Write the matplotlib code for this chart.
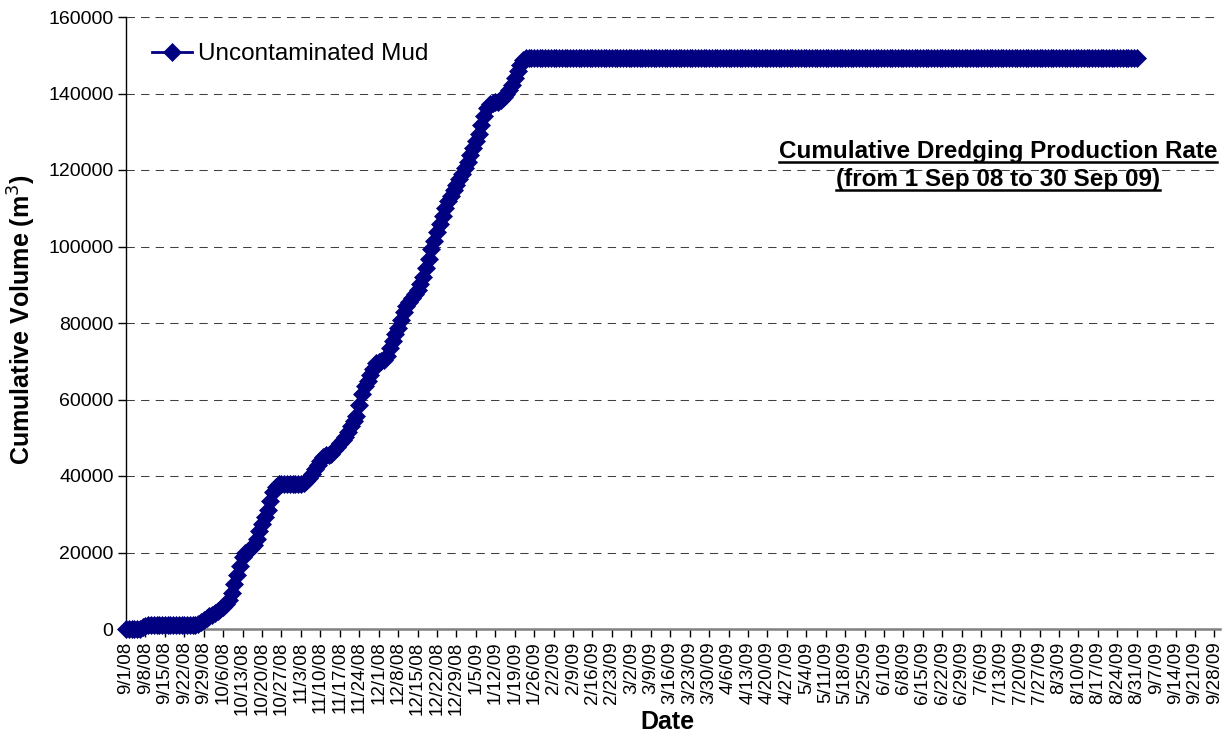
import matplotlib
matplotlib.use("Agg")
import matplotlib.pyplot as plt
import matplotlib.dates as mdates
from matplotlib.lines import Line2D
import numpy as np
import pandas as pd

plt.rcParams['font.family'] = ['Liberation Sans', 'DejaVu Sans']

# ---------------- data ----------------
start_date = "2008-09-01"
series_name = "Uncontaminated Mud"

volume_rise = [
    0, 0, 0, 0, 0, 0, 600, 900, 950, 1000,
    1000, 1000, 1000, 1000, 1000, 1000, 1000, 1000, 1000, 1000,
    1000, 1000, 1000, 1000, 1050, 1100, 1200, 1800, 2400, 2900,
    3300, 3700, 4200, 4700, 5200, 5800, 6600, 7600, 9500, 11800,
    14000, 16500, 18800, 19800, 20500, 21300, 22000, 23500, 25600, 27500,
    29300, 31000, 33500, 35800, 37000, 37800, 37900, 37900, 37900, 37900,
    37900, 37900, 37900, 37900, 38200, 38800, 39600, 40600, 41700, 42800,
    44000, 45000, 45500, 45600, 45800, 46800, 47700, 48600, 49500, 50300,
    51500, 53000, 54300, 55600, 58500, 61500, 63500, 64800, 66300, 68000,
    69500, 69900, 70100, 70400, 71500, 73500, 75200, 77000, 78800, 80800,
    82800, 84500, 85600, 86600, 87600, 88700, 90300, 92000, 94300, 96800,
    99300, 101500, 103800, 106000, 108000, 110000, 111800, 113300, 114800, 116200,
    117600, 119000, 120600, 122200, 124000, 125800, 127600, 129500, 131800, 134000,
    136200, 137300, 137600, 137700, 137800, 138300, 139000, 139800, 140800, 142300,
    144000, 145800, 147500, 148800,
]

volume_plateau = [
    149300, 149300, 149300, 149300, 149300, 149300, 149300, 149300, 149300, 149300, 149300, 149300, 149300,
    149300, 149300, 149300, 149300, 149300, 149300, 149300, 149300, 149300, 149300, 149300, 149300, 149300,
    149300, 149300, 149300, 149300, 149300, 149300, 149300, 149300, 149300, 149300, 149300, 149300, 149300,
    149300, 149300, 149300, 149300, 149300, 149300, 149300, 149300, 149300, 149300, 149300, 149300, 149300,
    149300, 149300, 149300, 149300, 149300, 149300, 149300, 149300, 149300, 149300, 149300, 149300, 149300,
    149300, 149300, 149300, 149300, 149300, 149300, 149300, 149300, 149300, 149300, 149300, 149300, 149300,
    149300, 149300, 149300, 149300, 149300, 149300, 149300, 149300, 149300, 149300, 149300, 149300, 149300,
    149300, 149300, 149300, 149300, 149300, 149300, 149300, 149300, 149300, 149300, 149300, 149300, 149300,
    149300, 149300, 149300, 149300, 149300, 149300, 149300, 149300, 149300, 149300, 149300, 149300, 149300,
    149300, 149300, 149300, 149300, 149300, 149300, 149300, 149300, 149300, 149300, 149300, 149300, 149300,
    149300, 149300, 149300, 149300, 149300, 149300, 149300, 149300, 149300, 149300, 149300, 149300, 149300,
    149300, 149300, 149300, 149300, 149300, 149300, 149300, 149300, 149300, 149300, 149300, 149300, 149300,
    149300, 149300, 149300, 149300, 149300, 149300, 149300, 149300, 149300, 149300, 149300, 149300, 149300,
    149300, 149300, 149300, 149300, 149300, 149300, 149300, 149300, 149300, 149300, 149300, 149300, 149300,
    149300, 149300, 149300, 149300, 149300, 149300, 149300, 149300, 149300, 149300, 149300, 149300, 149300,
    149300, 149300, 149300, 149300, 149300, 149300, 149300, 149300, 149300, 149300, 149300, 149300, 149300,
    149300, 149300, 149300, 149300, 149300, 149300, 149300, 149300, 149300, 149300, 149300, 149300, 149300,
]

volumes = volume_rise + volume_plateau
dates = pd.date_range(start_date, periods=len(volumes), freq="D")

y_ticks = [0, 20000, 40000, 60000, 80000, 100000, 120000, 140000, 160000]
x_start = "2008-09-01"
x_end = "2009-09-30"

title_lines = ["Cumulative Dredging Production Rate", "(from 1 Sep 08 to 30 Sep 09)"]
x_label = "Date"
y_label = "Cumulative Volume (m$^3$)"

# ---------------- figure ----------------
W, H = 1226, 738
fig = plt.figure(figsize=(W / 100, H / 100), dpi=100)
ax_l, ax_r, ax_t, ax_b = 126, 1220, 17, 629
ax = fig.add_axes([ax_l / W, 1 - ax_b / H, (ax_r - ax_l) / W, (ax_b - ax_t) / H])

navy = "#000080"
ax.plot(dates, volumes, color=navy, lw=2, marker="D", ms=9,
        mfc=navy, mec=navy, mew=0.5, label=series_name, clip_on=False, zorder=3)

ax.set_xlim(pd.Timestamp(x_start), pd.Timestamp(x_end))
ax.set_ylim(0, 160000)
ax.set_yticks(y_ticks)
ax.set_yticklabels([str(v) for v in y_ticks])

ax.xaxis.set_major_locator(mdates.WeekdayLocator(byweekday=mdates.MO))
ax.xaxis.set_major_formatter(
    matplotlib.ticker.FuncFormatter(
        lambda v, p: (lambda d: f"{d.month}/{d.day}/{d.strftime('%y')}")(mdates.num2date(v))))

ax.tick_params(axis="x", labelsize=13.5, length=6, width=1, color="black",
               direction="out", pad=3, rotation=90)
ax.tick_params(axis="y", labelsize=14, length=6, width=1, color="black",
               direction="out", pad=3)

for s in ["top", "right"]:
    ax.spines[s].set_visible(False)
ax.spines["left"].set_color("black")
ax.spines["left"].set_linewidth(1)
ax.spines["bottom"].set_color("#808080")
ax.spines["bottom"].set_linewidth(1.8)

ax.grid(axis="y", color="#404040", lw=0.75, dashes=(8, 6))
ax.set_axisbelow(True)
ax.axhline(160000, color="#404040", lw=0.75, dashes=(8, 6), zorder=0)

# legend
ax.legend(loc="center left", bbox_to_anchor=((152 - ax_l) / (ax_r - ax_l), (ax_b - 54) / (ax_b - ax_t)),
          frameon=False, fontsize=17.5, handlelength=1.65, handletextpad=0.25,
          borderpad=0, borderaxespad=0, numpoints=1)

# axis labels
fig.text(22 / W, 1 - 320 / H, y_label, rotation=90, ha="center", va="center",
         fontsize=18, fontweight="bold")
fig.text(667 / W, 1 - 722 / H, x_label, ha="center", va="center",
         fontsize=18, fontweight="bold")

# title with underline
title_texts = []
for line, base in zip(title_lines, [158, 186]):
    t = fig.text(998 / W, 1 - base / H, line, ha="center", va="baseline",
                 fontsize=17.5, fontweight="bold")
    title_texts.append((t, base))

fig.canvas.draw()
renderer = fig.canvas.get_renderer()
for t, base in title_texts:
    bb = t.get_window_extent(renderer)
    uy = 1 - (base + 3.5) / H
    fig.add_artist(Line2D([bb.x0 / W, bb.x1 / W], [uy, uy], transform=fig.transFigure,
                          color="black", lw=1.8))

fig.savefig("out.png", dpi=100)
